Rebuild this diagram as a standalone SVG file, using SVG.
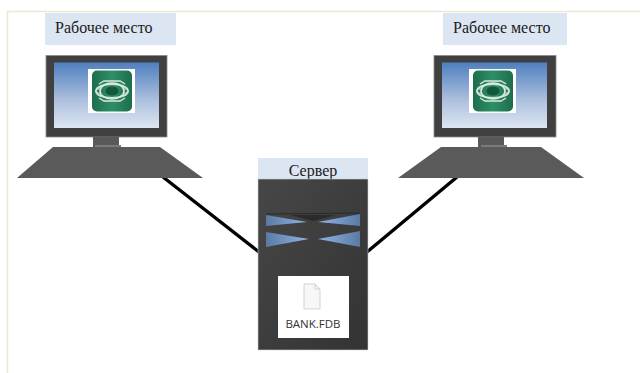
<svg xmlns="http://www.w3.org/2000/svg" width="640" height="373" viewBox="0 0 640 373">
  <defs>
    <style>
      .label-box { fill: #dce6f2; }
      .label { font-family: "Liberation Serif", "Times New Roman", serif; font-size: 16px; fill: #1a1a1a; }
      .bezel { fill: #404040; stroke: #8a8a8a; stroke-width: 0.8; }
      .screen { fill: url(#screenGrad); }
      .stand { fill: #595959; }
      .stand-foot { fill: #7a7a7a; }
      .keyboard { fill: #5a5a5a; }
      .link { stroke: #000; stroke-width: 3.4; fill: none; }
      .wedge { fill: url(#wedgeGrad); }
      .wedge-r { fill: url(#wedgeGradR); }
    </style>
    <linearGradient id="screenGrad" x1="0" y1="0" x2="0" y2="1">
      <stop offset="0" stop-color="#4f7fbf"/>
      <stop offset="0.55" stop-color="#a9bddc"/>
      <stop offset="1" stop-color="#dce6f2"/>
    </linearGradient>
    <linearGradient id="serverGrad" x1="0" y1="0" x2="1" y2="1">
      <stop offset="0" stop-color="#474747"/>
      <stop offset="1" stop-color="#333333"/>
    </linearGradient>
    <linearGradient id="wedgeGrad" x1="0" y1="0" x2="1" y2="0">
      <stop offset="0" stop-color="#5a7aa3"/>
      <stop offset="1" stop-color="#8fb6e6"/>
    </linearGradient>
    <linearGradient id="wedgeGradR" x1="1" y1="0" x2="0" y2="0">
      <stop offset="0" stop-color="#5a7aa3"/>
      <stop offset="1" stop-color="#8fb6e6"/>
    </linearGradient>
    <linearGradient id="iconGrad" x1="0" y1="0" x2="1" y2="0">
      <stop offset="0" stop-color="#1d6e4c"/>
      <stop offset="0.5" stop-color="#2f8f67"/>
      <stop offset="1" stop-color="#1d6e4c"/>
    </linearGradient>
    <!-- application icon -->
    <g id="appIcon">
      <rect x="0" y="0" width="47" height="44" fill="#ffffff"/>
      <rect x="4" y="1.5" width="40" height="41" rx="5" fill="url(#iconGrad)"/>
      <ellipse cx="24" cy="22" rx="16" ry="7" fill="none" stroke="#cfe3d8" stroke-width="2"/>
      <ellipse cx="24" cy="22" rx="12" ry="8" fill="none" stroke="#d9eadf" stroke-width="1.6"/>
      <ellipse cx="24" cy="22" rx="6.5" ry="4.5" fill="#14583b"/>
      <path d="M11 15 L16 12 L32 12 L37 15" fill="none" stroke="#d9eadf" stroke-width="1.4"/>
      <path d="M11 29 L16 32 L32 32 L37 29" fill="none" stroke="#d9eadf" stroke-width="1.4"/>
      <path d="M8 20 L12 20 M8 24 L12 24 M36 20 L40 20 M36 24 L40 24" stroke="#cfe3d8" stroke-width="1.2"/>
    </g>
  </defs>

  <rect x="0" y="0" width="640" height="373" fill="#ffffff"/>
  <!-- page frame -->
  <path d="M7.5 373 V11.5 H640" fill="none" stroke="#ebe9d6" stroke-width="1.5"/>

  <!-- connectors -->
  <g id="connectors">
    <line class="link" x1="163" y1="177" x2="259" y2="252"/>
    <line class="link" x1="367" y1="252" x2="457" y2="177"/>
  </g>

  <!-- left workstation -->
  <g id="workstation-left">
    <rect class="label-box" x="45" y="13" width="131" height="32"/>
    <text class="label" x="55" y="33">Рабочее место</text>
    <rect class="bezel" x="46" y="55.5" width="121" height="81.5"/>
    <rect class="screen" x="54" y="62.5" width="105" height="65.5"/>
    <use href="#appIcon" x="88" y="69"/>
    <rect class="stand" x="93" y="137" width="26" height="10"/>
    <rect class="stand-foot" x="95" y="145" width="26" height="5"/>
    <polygon class="keyboard" points="53,147 160,147 203,178 17,178"/>
  </g>

  <!-- right workstation -->
  <g id="workstation-right">
    <rect class="label-box" x="443" y="13" width="124" height="32"/>
    <text class="label" x="453" y="33">Рабочее место</text>
    <rect class="bezel" x="434" y="55.5" width="122" height="81.5"/>
    <rect class="screen" x="442" y="62.5" width="105" height="65.5"/>
    <use href="#appIcon" x="469" y="69"/>
    <rect class="stand" x="478" y="137" width="26" height="10"/>
    <rect class="stand-foot" x="481" y="145" width="26" height="5"/>
    <polygon class="keyboard" points="441,147 541,147 584,178 398,178"/>
  </g>

  <!-- server -->
  <g id="server">
    <rect class="label-box" x="258" y="158" width="110" height="21"/>
    <text class="label" x="313" y="176" text-anchor="middle">Сервер</text>
    <rect x="258" y="179" width="110" height="171" fill="url(#serverGrad)" stroke="#cfcfcf" stroke-width="0.6"/>
    <!-- drive bays -->
    <line x1="266" y1="214" x2="360" y2="213" stroke="#2a2a2a" stroke-width="1.2"/>
    <polygon class="wedge" points="266,215 266,226 307,222"/>
    <polygon class="wedge-r" points="360,214 360,226 318,222"/>
    <polygon points="290,215 336,215 313,221" fill="#2b2b2b"/>
    <polygon class="wedge" points="266,232 266,247 309,239"/>
    <polygon class="wedge-r" points="360,231 360,247 318,239"/>
    <!-- database file -->
    <rect x="278" y="276" width="71" height="62" fill="#ffffff"/>
    <path d="M304 284 H315 L320 289 V309 H304 Z" fill="#f7f7f7" stroke="#c8c8c8" stroke-width="0.8"/>
    <path d="M315 284 V289 H320" fill="none" stroke="#c8c8c8" stroke-width="0.8"/>
    <text x="313" y="328" text-anchor="middle" font-family="'Open Sans', 'Liberation Sans', sans-serif" font-size="11.5" fill="#333333">BANK.FDB</text>
  </g>
</svg>
